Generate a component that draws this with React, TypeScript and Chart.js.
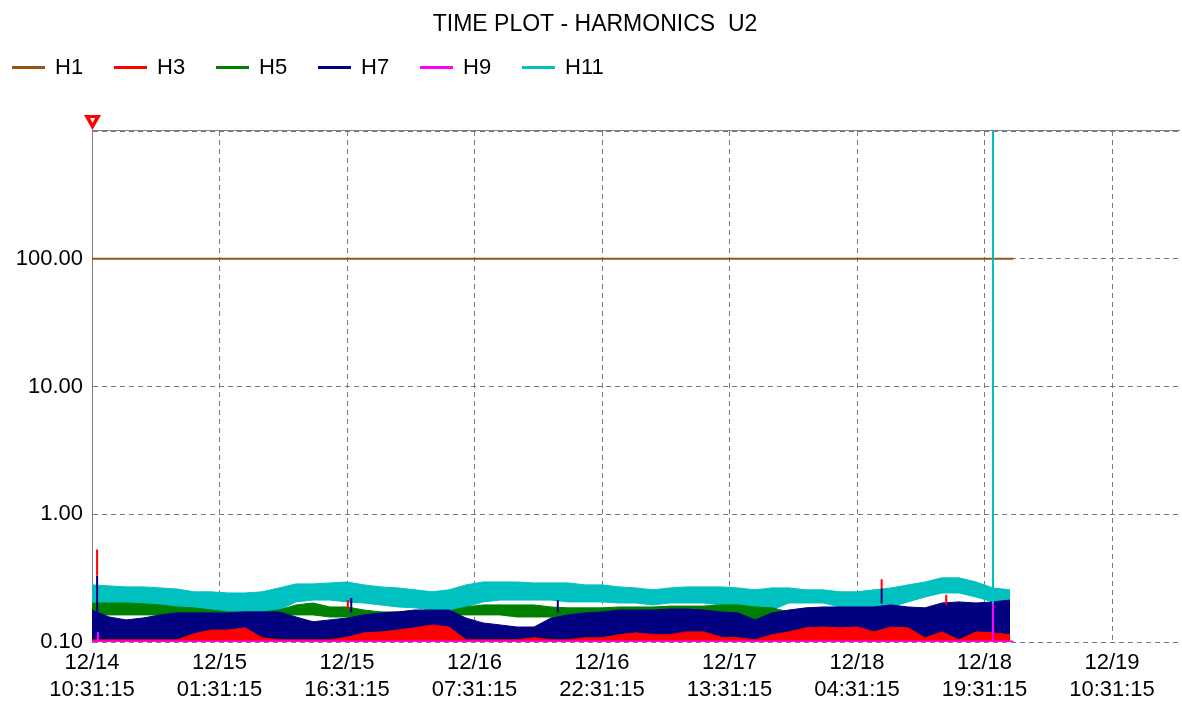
import React, { useEffect, useRef } from 'react';
import { Chart, registerables } from 'chart.js';
Chart.register(...registerables);

// ---- data (hours since 12/14 10:31:15) ----
const sampleHours = [0,2,4,6,8,10,12,14,16,18,20,22,24,26,28,30,32,34,36,38,40,42,44,46,48,50,52,54,56,58,60,62,64,66,68,70,72,74,76,78,80,82,84,86,88,90,92,94,96,98,100,102,104,106,108];

const h11Hi = [0.280,0.275,0.270,0.270,0.265,0.260,0.247,0.247,0.242,0.242,0.247,0.265,0.285,0.285,
  0.290,0.295,0.280,0.270,0.265,0.256,0.247,0.256,0.280,0.295,0.295,0.295,0.290,
  0.290,0.290,0.280,0.280,0.270,0.265,0.256,0.265,0.270,0.270,0.270,0.265,0.256,0.265,
  0.265,0.256,0.256,0.247,0.247,0.256,0.265,0.280,0.295,0.318,0.318,0.295,0.265,0.256];
const h11Lo = [0.206,0.202,0.199,0.195,0.188,0.188,0.178,0.172,0.169,0.163,0.169,0.178,0.206,0.213,
  0.213,0.206,0.202,0.195,0.188,0.185,0.178,0.172,0.188,0.206,0.213,0.213,0.213,
  0.213,0.206,0.206,0.206,0.202,0.202,0.195,0.202,0.202,0.202,0.195,0.188,0.172,0.178,
  0.202,0.202,0.202,0.188,0.185,0.185,0.188,0.206,0.225,0.242,0.242,0.225,0.206,0.202];
const h5Hi = [0.202,0.202,0.202,0.199,0.195,0.188,0.185,0.178,0.172,0.172,0.172,0.178,0.195,0.202,
  0.188,0.188,0.178,0.172,0.172,0.175,0.175,0.175,0.188,0.195,0.195,0.195,0.195,
  0.188,0.185,0.185,0.185,0.188,0.188,0.188,0.191,0.191,0.191,0.195,0.195,0.188,0.185,
  0.172,0.178,0.181,0.181,0.181,0.181,0.188,0.181,0.178,0.191,0.195,0.191,0.195,0.202];
const h5Lo = [0.163,0.163,0.163,0.163,0.163,0.169,0.163,0.163,0.157,0.157,0.157,0.163,0.163,0.163,
  0.157,0.157,0.163,0.163,0.163,0.163,0.163,0.163,0.163,0.163,0.163,0.157,0.157,
  0.157,0.163,0.169,0.172,0.172,0.172,0.172,0.172,0.172,0.172,0.163,0.154,0.144,0.163,
  0.154,0.160,0.163,0.163,0.163,0.163,0.166,0.163,0.160,0.166,0.169,0.166,0.169,0.172];
const h7Values = [0.178,0.157,0.149,0.154,0.163,0.169,0.169,0.169,0.169,0.172,0.172,0.172,0.157,0.144,
  0.149,0.154,0.163,0.169,0.172,0.178,0.178,0.178,0.154,0.141,0.136,0.131,0.131,
  0.154,0.163,0.169,0.172,0.178,0.178,0.178,0.181,0.181,0.178,0.172,0.169,0.149,0.169,
  0.178,0.185,0.188,0.188,0.188,0.188,0.195,0.188,0.185,0.202,0.206,0.202,0.206,0.213];
const h3Values = [0.104,0.104,0.104,0.104,0.104,0.104,0.116,0.124,0.124,0.129,0.108,0.104,0.104,0.104,
  0.104,0.109,0.118,0.120,0.124,0.129,0.136,0.131,0.104,0.104,0.104,0.104,0.108,
  0.104,0.104,0.108,0.108,0.114,0.118,0.114,0.114,0.120,0.120,0.109,0.108,0.104,0.114,
  0.120,0.129,0.131,0.129,0.131,0.120,0.131,0.129,0.108,0.120,0.104,0.120,0.118,0.114];

const h1Hours = [0, 108.4];
const h1Values = [100, 100];
const h9Hours = [0, 108.4];
const h9Values = [0.101, 0.101];

// isolated spikes
const h3SpikeHours = [0.6, 30.1, 92.9, 100.5];
const h3SpikeLo = [0.33, 0.178, 0.26, 0.195];
const h3SpikeHi = [0.53, 0.213, 0.31, 0.234];
const h7SpikeHours = [0.6, 30.5, 54.8, 92.9];
const h7SpikeLo = [0.15, 0.17, 0.17, 0.2];
const h7SpikeHi = [0.33, 0.221, 0.213, 0.26];
const h9SpikeHours = [0.7, 106];
const h9SpikeLo = [0.1, 0.1];
const h9SpikeHi = [0.12, 0.213];
const h11SpikeHours = [106];
const h11SpikeLo = [0.2];
const h11SpikeHi = [1000];

// axes
const tickHours = [0, 15, 30, 45, 60, 75, 90, 105, 120];
const tickDates = ['12/14', '12/15', '12/15', '12/16', '12/16', '12/17', '12/18', '12/18', '12/19'];
const tickTimes = ['10:31:15', '01:31:15', '16:31:15', '07:31:15', '22:31:15', '13:31:15', '04:31:15', '19:31:15', '10:31:15'];
const yTickValues = [0.1, 1, 10, 100, 1000];
const yTickLabels = ['0.10', '1.00', '10.00', '100.00', ''];

const legendNames = ['H1', 'H3', 'H5', 'H7', 'H9', 'H11'];
const legendColors = ['#94541A', '#FF0000', '#008000', '#000080', '#FF00FF', '#00C0C0'];
const titleText = 'TIME PLOT - HARMONICS  U2';

const FONT = "'Liberation Sans', Arial, sans-serif";

const pts = (xs: number[], ys: number[]) => xs.map((x, i) => ({ x, y: ys[i] }));
const spikes = (xs: number[], lo: number[], hi: number[]) => {
  const out: any[] = [];
  xs.forEach((x, i) => { out.push({ x, y: lo[i] }, { x, y: hi[i] }, { x, y: null }); });
  return out;
};

const decorPlugin = {
  id: 'decor',
  afterDraw(chart: any) {
    const ctx = chart.ctx;
    const a = chart.chartArea;
    ctx.save();
    ctx.strokeStyle = '#808080';
    ctx.lineWidth = 1;
    ctx.setLineDash([]);
    ctx.beginPath();
    ctx.moveTo(a.left - 0.5, a.top - 0.5);
    ctx.lineTo(a.right, a.top - 0.5);
    ctx.stroke();
    // title
    ctx.fillStyle = '#000';
    ctx.font = `23px ${FONT}`;
    ctx.textAlign = 'center';
    ctx.textBaseline = 'middle';
    ctx.fillText(titleText, 595, 25);
    // legend
    ctx.font = `22px ${FONT}`;
    ctx.textAlign = 'left';
    legendNames.forEach((n, i) => {
      const x = 12 + i * 102;
      ctx.strokeStyle = legendColors[i];
      ctx.lineWidth = 3;
      ctx.beginPath();
      ctx.moveTo(x, 67.5);
      ctx.lineTo(x + 33, 67.5);
      ctx.stroke();
      ctx.fillStyle = '#000';
      ctx.fillText(n, x + 43, 68);
    });
    // marker triangle
    const mx = a.left;
    ctx.fillStyle = '#FF0000';
    ctx.beginPath();
    ctx.moveTo(mx - 8, 115);
    ctx.lineTo(mx + 9, 115);
    ctx.lineTo(mx + 0.5, 130);
    ctx.closePath();
    ctx.fill();
    ctx.fillStyle = '#FFFFFF';
    ctx.beginPath();
    ctx.moveTo(mx - 2, 118);
    ctx.lineTo(mx + 3, 118);
    ctx.lineTo(mx + 0.5, 123);
    ctx.closePath();
    ctx.fill();
    ctx.restore();
  },
};

export default function App() {
  const ref = useRef<HTMLCanvasElement>(null);
  useEffect(() => {
    if (!ref.current) return;
    const base = { pointRadius: 0, tension: 0, spanGaps: false };
    const chart = new Chart(ref.current, {
      type: 'line',
      data: {
        datasets: [
          { ...base, label: 'H11 lo', data: pts(sampleHours, h11Lo), borderColor: legendColors[5], borderWidth: 1, fill: false, order: 20 },
          { ...base, label: 'H11', data: pts(sampleHours, h11Hi), borderColor: legendColors[5], borderWidth: 1, backgroundColor: legendColors[5], fill: '-1', order: 19 },
          { ...base, label: 'H5 lo', data: pts(sampleHours, h5Lo), borderColor: legendColors[2], borderWidth: 1, fill: false, order: 18 },
          { ...base, label: 'H5', data: pts(sampleHours, h5Hi), borderColor: legendColors[2], borderWidth: 1, backgroundColor: legendColors[2], fill: '-1', order: 17 },
          { ...base, label: 'H7', data: pts(sampleHours, h7Values), borderColor: legendColors[3], borderWidth: 1, backgroundColor: legendColors[3], fill: 'start', order: 16 },
          { ...base, label: 'H7 spikes', data: spikes(h7SpikeHours, h7SpikeLo, h7SpikeHi), borderColor: legendColors[3], borderWidth: 2, fill: false, order: 15 },
          { ...base, label: 'H3', data: pts(sampleHours, h3Values), borderColor: legendColors[1], borderWidth: 1, backgroundColor: legendColors[1], fill: 'start', order: 14 },
          { ...base, label: 'H3 spikes', data: spikes(h3SpikeHours, h3SpikeLo, h3SpikeHi), borderColor: legendColors[1], borderWidth: 2, fill: false, order: 13 },
          { ...base, label: 'H9', data: pts(h9Hours, h9Values), borderColor: legendColors[4], borderWidth: 2, fill: false, order: 12 },
          { ...base, label: 'H9 spikes', data: spikes(h9SpikeHours, h9SpikeLo, h9SpikeHi), borderColor: legendColors[4], borderWidth: 2, fill: false, order: 11 },
          { ...base, label: 'H1', data: pts(h1Hours, h1Values), borderColor: legendColors[0], borderWidth: 2, fill: false, order: 10 },
          { ...base, label: 'H11 spike', data: spikes(h11SpikeHours, h11SpikeLo, h11SpikeHi), borderColor: legendColors[5], borderWidth: 2, fill: false, order: 9 },
        ] as any,
      },
      options: {
        responsive: false,
        animation: false,
        devicePixelRatio: 1,
        events: [],
        layout: { padding: { top: 131, right: 2, left: 0, bottom: 0 } },
        plugins: { legend: { display: false }, title: { display: false }, tooltip: { enabled: false } },
        scales: {
          x: {
            type: 'linear',
            min: 0,
            max: 128,
            afterFit: (s: any) => { s.height = 60; },
            afterBuildTicks: (s: any) => { s.ticks = tickHours.map((v) => ({ value: v })); },
            ticks: {
              autoSkip: false,
              maxRotation: 0,
              padding: 8,
              color: '#000',
              font: { family: FONT, size: 22, lineHeight: 1.2 },
              callback: (v: any) => {
                const i = tickHours.indexOf(Number(v));
                return i >= 0 ? [tickDates[i], tickTimes[i]] : '';
              },
            },
            grid: { color: '#7a7a7a', lineWidth: 1, drawTicks: false },
            border: { display: false, dash: [5, 4] },
          },
          y: {
            type: 'logarithmic',
            min: 0.1,
            max: 1000,
            afterFit: (s: any) => { s.width = 92; },
            afterBuildTicks: (s: any) => { s.ticks = yTickValues.map((v) => ({ value: v })); },
            ticks: {
              padding: 9,
              color: '#000',
              font: { family: FONT, size: 22 },
              callback: (v: any) => {
                const i = yTickValues.indexOf(Number(v));
                return i >= 0 ? yTickLabels[i] : '';
              },
            },
            grid: { color: '#7a7a7a', lineWidth: 1, drawTicks: false },
            border: { display: true, color: '#808080', width: 1, dash: [5, 4] },
          },
        },
      },
      plugins: [decorPlugin],
    } as any);
    return () => chart.destroy();
  }, []);
  return (
    <div style={{ position: 'absolute', left: 0, top: 0, width: 1182, height: 702, background: '#fff' }}>
      <canvas ref={ref} width={1182} height={702} />
    </div>
  );
}
